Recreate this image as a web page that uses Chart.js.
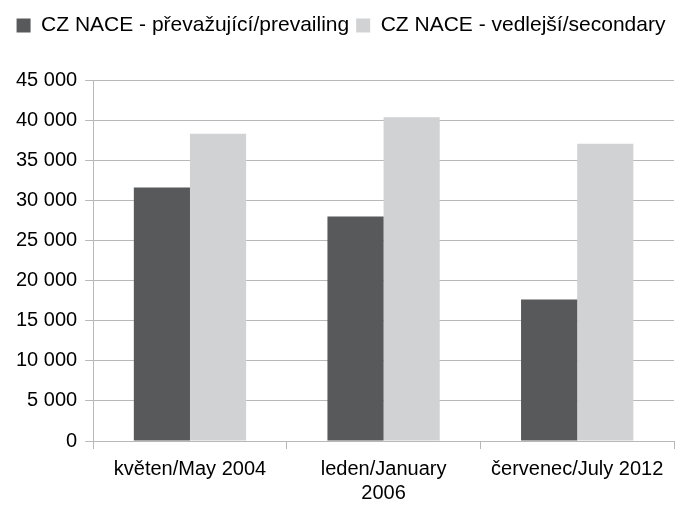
<!DOCTYPE html>
<html>
<head>
<meta charset="utf-8">
<script src="https://cdn.jsdelivr.net/npm/chart.js@4"></script>
<style>
  html, body { margin: 0; padding: 0; background: #fff; }
  #wrap { width: 680px; height: 507px; }
</style>
</head>
<body>
<div id="wrap"><canvas id="chart" width="680" height="507"></canvas></div>
<script>
// categories and series
const categories = [['květen/May 2004'], ['leden/January', '2006'], ['červenec/July 2012']];
const prevailing = [31600, 28000, 17650];
const secondary = [38300, 40350, 37050];
const seriesNames = ['CZ NACE - převažující/prevailing', 'CZ NACE - vedlejší/secondary'];

const fontFamily = '"Liberation Sans", Arial, sans-serif';
const fontSize = 20;

// thousand separator with a space, as in the original
function fmt(v) {
    return String(v).replace(/\B(?=(\d{3})+(?!\d))/g, ' ');
}

// extra room under the legend
const legendGap = {
    id: 'legendGap',
    beforeInit(chart) {
        const origFit = chart.legend.fit;
        chart.legend.fit = function () {
            origFit.bind(chart.legend)();
            this.height += 34;
        };
    }
};

new Chart(document.getElementById('chart').getContext('2d'), {
    type: 'bar',
    data: {
        labels: categories,
        datasets: [{
            label: seriesNames[0],
            data: prevailing,
            backgroundColor: '#58595b',
            categoryPercentage: 0.58,
            barPercentage: 1
        }, {
            label: seriesNames[1],
            data: secondary,
            backgroundColor: '#d1d2d4',
            categoryPercentage: 0.58,
            barPercentage: 1
        }]
    },
    plugins: [legendGap],
    options: {
        responsive: false,
        animation: false,
        layout: { padding: { left: 8, right: 6, top: 8, bottom: -6 } },
        plugins: {
            legend: {
                position: 'top',
                labels: {
                    boxWidth: 14,
                    boxHeight: 14,
                    padding: 7,
                    color: '#000',
                    font: { family: fontFamily, size: 21 }
                }
            },
            tooltip: { enabled: false }
        },
        scales: {
            x: {
                grid: {
                    drawOnChartArea: false,
                    color: '#b8b8b8',
                    tickLength: 8
                },
                border: { color: '#b8b8b8' },
                ticks: {
                    color: '#000',
                    maxRotation: 0,
                    padding: 8,
                    font: { family: fontFamily, size: fontSize }
                }
            },
            y: {
                min: 0,
                max: 45000,
                ticks: {
                    stepSize: 5000,
                    color: '#000',
                    padding: 8,
                    font: { family: fontFamily, size: fontSize },
                    callback: v => fmt(v)
                },
                grid: { color: '#b8b8b8', tickLength: 8 },
                border: { color: '#b8b8b8' }
            }
        }
    }
});
</script>
</body>
</html>
